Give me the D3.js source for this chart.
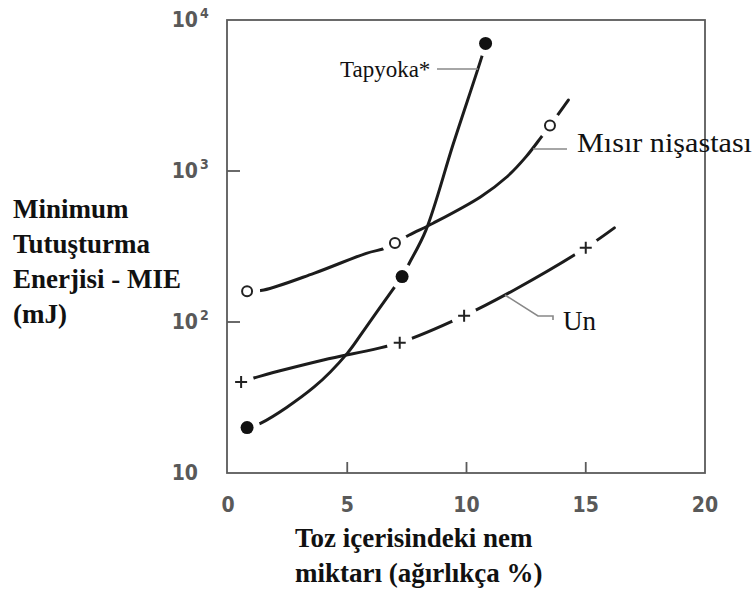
<!DOCTYPE html>
<html lang="tr">
<head>
<meta charset="utf-8">
<title>MIE - nem</title>
<script src="https://cdn.jsdelivr.net/npm/d3@7"></script>
<style>
  body { margin: 0; background: #fff; }
  .tick-label { font-family: "Liberation Sans Narrow", "DejaVu Sans Condensed", sans-serif; font-weight: bold; fill: #595959; }
  .title { font-family: "Liberation Serif", "Times New Roman", serif; font-weight: bold; fill: #111; font-size: 27px; }
  .series-label { font-family: "Liberation Serif", "Times New Roman", serif; fill: #111; }
</style>
</head>
<body>
<script>
// tick values
var xTicks = [0, 5, 10, 15, 20];
var yTicks = [10, 100, 1000, 10000];
var yTickExp = ["", "2", "3", "4"];

// measured points (moisture %, MIE mJ)
var tapyokaPts = [[0.8, 20], [7.3, 200], [10.8, 7000]];
var misirPts = [[0.8, 160], [7.0, 333], [13.5, 2000]];
var unPts = [[0.55, 40], [7.2, 73], [9.9, 110], [15.0, 310]];

// hand-drawn trend curves
var tapyokaCurve = [[0.8, 20], [1.4, 21.5], [3.6, 37], [5.0, 62], [5.8, 93], [6.9, 163], [7.3, 200],
                    [7.6, 245], [8.3, 406], [9.45, 1520], [10.64, 5700], [10.8, 7000]];
var misirCurve = [[0.8, 160], [1.5, 163], [3.6, 210], [5.8, 285], [6.6, 308], [7.0, 333], [7.6, 377],
                  [8.6, 451], [10.6, 676], [11.7, 916], [12.5, 1245], [13.15, 1690], [13.5, 2000], [14.27, 2950]];
var unCurve = [[0.55, 40], [1.4, 44], [4.0, 56], [7.2, 73], [9.9, 110], [12.0, 163], [15.0, 310], [16.2, 420]];

var w = 755, h = 594;
var plotLeft = 227, plotRight = 705, plotTop = 20, plotBottom = 473;

var svg = d3.select("body").append("svg")
    .attr("width", w)
    .attr("height", h);

var x = d3.scaleLinear().domain([0, 20]).range([228, 705]);
var y = d3.scaleLog().domain([10, 10000]).range([plotBottom, plotTop]);

// plot frame
svg.append("rect")
    .attr("x", plotLeft).attr("y", plotTop)
    .attr("width", plotRight - plotLeft).attr("height", plotBottom - plotTop)
    .attr("fill", "none").attr("stroke", "#5a5a5a").attr("stroke-width", 1.8);

// inner tick marks
svg.selectAll(".ytick")
    .data(yTicks.slice(1, 3))
  .enter().append("line")
    .attr("x1", plotLeft).attr("x2", plotLeft + 13)
    .attr("y1", function(d) { return y(d); })
    .attr("y2", function(d) { return y(d); })
    .attr("stroke", "#5a5a5a").attr("stroke-width", 1.8);

svg.selectAll(".xtick")
    .data(xTicks.slice(1, 4))
  .enter().append("line")
    .attr("x1", function(d) { return x(d); })
    .attr("x2", function(d) { return x(d); })
    .attr("y1", plotBottom).attr("y2", plotBottom - 11)
    .attr("stroke", "#5a5a5a").attr("stroke-width", 1.8);

// tick labels
svg.selectAll(".xlab")
    .data(xTicks)
  .enter().append("text")
    .attr("class", "tick-label")
    .attr("x", function(d) { return x(d); })
    .attr("y", 512)
    .attr("text-anchor", "middle")
    .attr("font-size", "21px")
    .text(function(d) { return d; });

var ylab = svg.selectAll(".ylab")
    .data(yTicks)
  .enter().append("g")
    .attr("transform", function(d) { return "translate(198," + (y(d) + 7) + ")"; });
ylab.append("text")
    .attr("class", "tick-label")
    .attr("text-anchor", "end")
    .attr("font-size", "21px")
    .text("10");
ylab.append("text")
    .attr("class", "tick-label")
    .attr("x", 2).attr("y", -9)
    .attr("font-size", "14px")
    .text(function(d, i) { return yTickExp[i]; });

// curves
var line = d3.line()
    .x(function(d) { return x(d[0]); })
    .y(function(d) { return y(d[1]); })
    .curve(d3.curveCatmullRom.alpha(0.5));

[tapyokaCurve, misirCurve, unCurve].forEach(function(c) {
  svg.append("path")
      .attr("d", line(c))
      .attr("fill", "none")
      .attr("stroke", "#1c1c1c")
      .attr("stroke-width", 3)
      .attr("stroke-linecap", "round");
});

// white gaps round the markers
var allPts = tapyokaPts.concat(misirPts, unPts);
svg.selectAll(".halo")
    .data(allPts)
  .enter().append("circle")
    .attr("cx", function(d) { return x(d[0]); })
    .attr("cy", function(d) { return y(d[1]); })
    .attr("r", 13)
    .attr("fill", "#fff");

// markers
svg.selectAll(".tap")
    .data(tapyokaPts)
  .enter().append("circle")
    .attr("cx", function(d) { return x(d[0]); })
    .attr("cy", function(d) { return y(d[1]); })
    .attr("r", 6.5)
    .attr("fill", "#111");

svg.selectAll(".mis")
    .data(misirPts)
  .enter().append("circle")
    .attr("cx", function(d) { return x(d[0]); })
    .attr("cy", function(d) { return y(d[1]); })
    .attr("r", 5)
    .attr("fill", "#fff")
    .attr("stroke", "#222")
    .attr("stroke-width", 2);

svg.selectAll(".un")
    .data(unPts)
  .enter().append("path")
    .attr("transform", function(d) { return "translate(" + x(d[0]) + "," + y(d[1]) + ")"; })
    .attr("d", "M-6,0H6M0,-6V6")
    .attr("stroke", "#222")
    .attr("stroke-width", 2);

// leader lines
var lead = d3.line();
[
  [[437, 69], [478, 69]],
  [[533, 149], [567, 149]],
  [[505, 295], [538, 316], [553, 316], [553, 320]]
].forEach(function(p) {
  svg.append("path")
      .attr("d", lead(p))
      .attr("fill", "none")
      .attr("stroke", "#888")
      .attr("stroke-width", 1.6);
});

// series labels
svg.append("text").attr("class", "series-label")
    .attr("x", 340).attr("y", 77).attr("font-size", "23px")
    .text("Tapyoka*");
svg.append("text").attr("class", "series-label")
    .attr("x", 577).attr("y", 152).attr("font-size", "28px")
    .attr("textLength", 175).attr("lengthAdjust", "spacingAndGlyphs")
    .text("Mısır nişastası");
svg.append("text").attr("class", "series-label")
    .attr("x", 563).attr("y", 330).attr("font-size", "27px")
    .text("Un");

// axis titles
var yTitle = ["Minimum", "Tutuşturma", "Enerjisi - MIE", "(mJ)"];
svg.selectAll(".yt")
    .data(yTitle)
  .enter().append("text")
    .attr("class", "title")
    .attr("x", 13)
    .attr("y", function(d, i) { return 218 + i * 35; })
    .text(function(d) { return d; });

var xTitle = ["Toz içerisindeki nem", "miktarı (ağırlıkça %)"];
svg.selectAll(".xt")
    .data(xTitle)
  .enter().append("text")
    .attr("class", "title")
    .attr("x", 295)
    .attr("y", function(d, i) { return 547 + i * 35; })
    .text(function(d) { return d; });
</script>
</body>
</html>
